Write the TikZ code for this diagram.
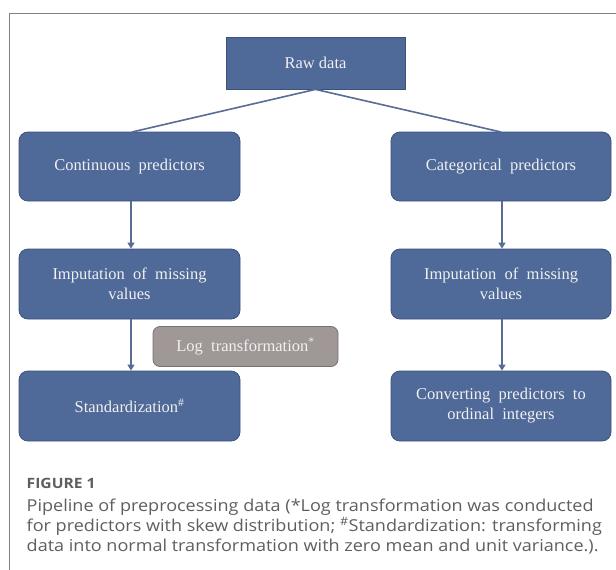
\documentclass[tikz,border=0pt]{standalone}
\usepackage{fontspec}
\setmainfont{Liberation Serif}
\newfontfamily\capfont[FakeStretch=1.1]{Open Sans}
\usetikzlibrary{arrows.meta}
\definecolor{boxblue}{RGB}{79,105,153}
\definecolor{boxedge}{RGB}{60,82,125}
\definecolor{boxgray}{RGB}{160,152,150}
\definecolor{grayedge}{RGB}{120,112,110}
\definecolor{linkblue}{RGB}{88,108,150}
\definecolor{framegray}{RGB}{130,130,130}
\definecolor{captext}{RGB}{95,95,95}
\definecolor{boxtext}{RGB}{240,240,240}
\tikzset{
  bluebox/.style={draw=boxedge, line width=0.8pt, fill=boxblue, rounded corners=9pt, text=boxtext, align=center, font=\fontsize{16.5}{20}\selectfont, inner sep=0pt},
  rawbox/.style={draw=boxedge, line width=0.8pt, fill=boxblue, text=boxtext, align=center, font=\fontsize{16.5}{20}\selectfont, inner sep=0pt},
  graybox/.style={draw=grayedge, line width=0.8pt, fill=boxgray, rounded corners=7pt, text=boxtext, align=center, font=\fontsize{16.5}{20}\selectfont, inner sep=0pt},
  link/.style={draw=linkblue, line width=1.6pt},
  arr/.style={draw=linkblue, line width=1.3pt, -{Triangle[length=6pt,width=7pt]}},
  captionline/.style={anchor=base west, inner sep=0pt, text=captext, font=\capfont\fontsize{16.4}{20}\selectfont}
}
\begin{document}
\begin{tikzpicture}[x=1pt,y=-1pt]
\useasboundingbox (0,0) rectangle (616,570);
\fill[white] (0,0) rectangle (616,570);
\draw[framegray, line width=1pt] (9,570) -- (9,13.5) -- (616,13.5);
% nodes
\node[rawbox, minimum width=179pt, minimum height=52pt] (raw) at (315.5,63) {Raw data};
\node[bluebox, minimum width=221pt, minimum height=69pt] (cont) at (129.5,166.5) {Continuous\ \ predictors};
\node[bluebox, minimum width=220pt, minimum height=69pt] (cat) at (501,166.5) {Categorical\ \ predictors};
\node[bluebox, minimum width=221pt, minimum height=70pt] (impl) at (129.5,284) {Imputation\ \ of\ \ missing\\values};
\node[bluebox, minimum width=220pt, minimum height=70pt] (impr) at (501,284) {Imputation\ \ of\ \ missing\\values};
\node[graybox, minimum width=185pt, minimum height=40pt] (log) at (245.5,346.5) {Log\ \ transformation\textsuperscript{*}};
\node[bluebox, minimum width=221pt, minimum height=70pt] (std) at (129.5,406) {Standardization\textsuperscript{\#}};
\node[bluebox, minimum width=220pt, minimum height=70pt] (conv) at (501,406) {Converting\ \ predictors\ \ to\\ordinal\ \ integers};
% connectors
\coordinate (cl) at (132,132);
\coordinate (cr) at (501,132);
\draw[link] (raw.south) -- (cl);
\draw[link] (raw.south) -- (cr);
\draw[arr] (cont.south -| 131,0) -- (impl.north -| 131,0);
\draw[arr] (cat.south -| 502,0) -- (impr.north -| 502,0);
\draw[arr] (impl.south -| 131,0) -- (std.north -| 131,0);
\draw[arr] (impr.south -| 502,0) -- (conv.north -| 502,0);
% caption
\node[captionline, font=\capfont\bfseries\fontsize{14.2}{17}\selectfont] (fig) at (26.5,488.3) {FIGURE 1};
\node[captionline] (c1) at (26.5,511.7) {Pipeline of preprocessing data (*Log transformation was conducted};
\node[captionline] (c2) at (26.5,531.7) {for predictors with skew distribution; \textsuperscript{\#}Standardization: transforming};
\node[captionline] (c3) at (26.5,551.7) {data into normal transformation with zero mean and unit variance.).};
\end{tikzpicture}
\end{document}
